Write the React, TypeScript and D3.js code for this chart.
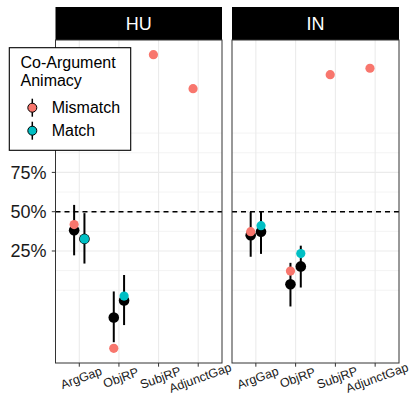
import React from "react";
import * as d3 from "d3";

// ---- data (log-odds scale; axis labelled as probability) ----
const panels = ["HU", "IN"];
const categories = ["ArgGap", "ObjRP", "SubjRP", "AdjunctGap"];
const animacy = ["Mismatch", "Match"];
const colors = ["#F8766D", "#00BFC4"];

// observed means (null = no data)
const obsHU_Mismatch = [-0.36, -3.82, 4.39, 3.44];
const obsHU_Match = [-0.76, -2.36, null, null];
const obsIN_Mismatch = [-0.56, -1.66, 3.83, 4.01];
const obsIN_Match = [-0.39, -1.17, null, null];

// model estimates with interval
const estHU_Mismatch = [-0.52, -2.96, null, null];
const loHU_Mismatch = [-1.22, -3.65, null, null];
const hiHU_Mismatch = [0.19, -2.23, null, null];
const estHU_Match = [-0.76, -2.48, null, null];
const loHU_Match = [-1.45, -3.17, null, null];
const hiHU_Match = [-0.04, -1.77, null, null];
const estIN_Mismatch = [-0.66, -2.03, null, null];
const loIN_Mismatch = [-1.26, -2.65, null, null];
const hiIN_Mismatch = [-0.01, -1.43, null, null];
const estIN_Match = [-0.56, -1.53, null, null];
const loIN_Match = [-1.18, -2.12, null, null];
const hiIN_Match = [0.0, -0.95, null, null];

const tickProbs = [0.25, 0.5, 0.75];

const logit = (p: number) => Math.log(p / (1 - p));

type Row = { panel: number; cat: number; grp: number; obs: number | null; est: number | null; lo: number | null; hi: number | null };

const series = [
  [obsHU_Mismatch, estHU_Mismatch, loHU_Mismatch, hiHU_Mismatch],
  [obsHU_Match, estHU_Match, loHU_Match, hiHU_Match],
  [obsIN_Mismatch, estIN_Mismatch, loIN_Mismatch, hiIN_Mismatch],
  [obsIN_Match, estIN_Match, loIN_Match, hiIN_Match],
];

const rows: Row[] = [];
series.forEach((s, i) => {
  const panel = Math.floor(i / 2);
  const grp = i % 2;
  categories.forEach((_, c) => {
    rows.push({ panel, cat: c, grp, obs: s[0][c], est: s[1][c], lo: s[2][c], hi: s[3][c] });
  });
});

const FONT = "'Liberation Sans', Arial, Helvetica, sans-serif";

export default function App() {
  const W = 409, H = 394;
  const stripTop = 7, stripH = 33;
  const panelTop = stripTop + stripH, panelBottom = 363;
  const panelX = [[55.5, 222], [232, 399]];

  const allVals: number[] = [];
  rows.forEach(r => { [r.obs, r.lo, r.hi, r.est].forEach(v => { if (v != null) allVals.push(v); }); });
  const [vmin, vmax] = d3.extent(allVals) as [number, number];
  const pad = (vmax - vmin) * 0.05;
  const y = d3.scaleLinear().domain([vmin - pad, vmax + pad]).range([panelBottom, panelTop]);

  const majors = tickProbs.map(logit);
  const step = majors[1] - majors[0];
  const ext = [majors[0] - step, ...majors, majors[majors.length - 1] + step];
  const minors: number[] = [ext[0], ext[ext.length - 1]];
  for (let i = 0; i < ext.length - 1; i++) minors.push((ext[i] + ext[i + 1]) / 2);

  const dodge = 0.13;
  const fmt = d3.format(".0%");

  return (
    <svg width={W} height={H} style={{ position: "absolute", left: 0, top: 0, fontFamily: FONT }}>
      <rect x={0} y={0} width={W} height={H} fill="white" />
      {panels.map((p, pi) => {
        const [x0, x1] = panelX[pi];
        const x = d3.scaleLinear().domain([0.4, categories.length + 0.6]).range([x0, x1]);
        const pr = rows.filter(r => r.panel === pi);
        return (
          <g key={p}>
            {/* strip */}
            <rect x={x0} y={stripTop} width={x1 - x0} height={stripH} fill="black" />
            <text x={(x0 + x1) / 2} y={stripTop + stripH / 2 + 6.5} textAnchor="middle" fill="white" fontSize={18}>{p}</text>
            {/* grid */}
            {minors.map((m, i) => (
              <line key={"mi" + i} x1={x0} x2={x1} y1={y(m)} y2={y(m)} stroke="#EBEBEB" strokeWidth={0.6} />
            ))}
            {majors.map((m, i) => (
              <line key={"ma" + i} x1={x0} x2={x1} y1={y(m)} y2={y(m)} stroke="#EBEBEB" strokeWidth={1.1} />
            ))}
            {categories.map((c, i) => (
              <line key={"v" + c} x1={x(i + 1)} x2={x(i + 1)} y1={panelTop} y2={panelBottom} stroke="#EBEBEB" strokeWidth={1.1} />
            ))}
            {/* reference line */}
            <line x1={x0} x2={x1} y1={y(0)} y2={y(0)} stroke="black" strokeWidth={1.5} strokeDasharray="5,4" />
            {/* intervals */}
            {pr.filter(r => r.est != null).map((r, i) => {
              const cx = x(r.cat + 1 + (r.grp === 0 ? -dodge : dodge));
              return <line key={"e" + i} x1={cx} x2={cx} y1={y(r.lo as number)} y2={y(r.hi as number)} stroke="black" strokeWidth={2} />;
            })}
            {pr.filter(r => r.est != null).map((r, i) => {
              const cx = x(r.cat + 1 + (r.grp === 0 ? -dodge : dodge));
              return <circle key={"b" + i} cx={cx} cy={y(r.est as number)} r={5.3} fill="black" />;
            })}
            {pr.filter(r => r.obs != null).map((r, i) => {
              const cx = x(r.cat + 1 + (r.grp === 0 ? -dodge : dodge));
              return <circle key={"o" + i} cx={cx} cy={y(r.obs as number)} r={4.6} fill={colors[r.grp]} />;
            })}
            {/* border */}
            <rect x={x0} y={panelTop} width={x1 - x0} height={panelBottom - panelTop} fill="none" stroke="#333333" strokeWidth={1} />
            {/* x ticks + labels */}
            {categories.map((c, i) => (
              <g key={"xt" + c}>
                <line x1={x(i + 1)} x2={x(i + 1)} y1={panelBottom} y2={panelBottom + 3.7} stroke="#333333" strokeWidth={1} />
                <text transform={`translate(${x(i + 1) + 2},${panelBottom + 15}) rotate(-20)`} textAnchor="middle" dominantBaseline="central" fontSize={12.5} fill="#1a1a1a">{c}</text>
              </g>
            ))}
          </g>
        );
      })}
      {/* y axis */}
      {majors.map((m, i) => (
        <g key={"yt" + i}>
          <line x1={panelX[0][0] - 3.7} x2={panelX[0][0]} y1={y(m)} y2={y(m)} stroke="#333333" strokeWidth={1} />
          <text x={panelX[0][0] - 9} y={y(m) + 6.3} textAnchor="end" fontSize={18} fill="#1a1a1a">{fmt(tickProbs[i])}</text>
        </g>
      ))}
      {/* legend */}
      <g>
        <rect x={9.3} y={47.7} width={121.4} height={102.6} fill="white" stroke="black" strokeWidth={1.1} />
        <text x={20.5} y={68.3} fontSize={16} fill="black">Co-Argument</text>
        <text x={20.5} y={86} fontSize={16} fill="black">Animacy</text>
        {animacy.map((a, i) => {
          const cy = 107.7 + i * 23;
          return (
            <g key={a}>
              <line x1={32.3} x2={32.3} y1={cy - 9} y2={cy + 9} stroke="black" strokeWidth={1.5} />
              <circle cx={32.3} cy={cy} r={4.5} fill={colors[i]} stroke="black" strokeWidth={1} />
              <text x={51.7} y={cy + 5.7} fontSize={16} fill="black">{a}</text>
            </g>
          );
        })}
      </g>
    </svg>
  );
}
